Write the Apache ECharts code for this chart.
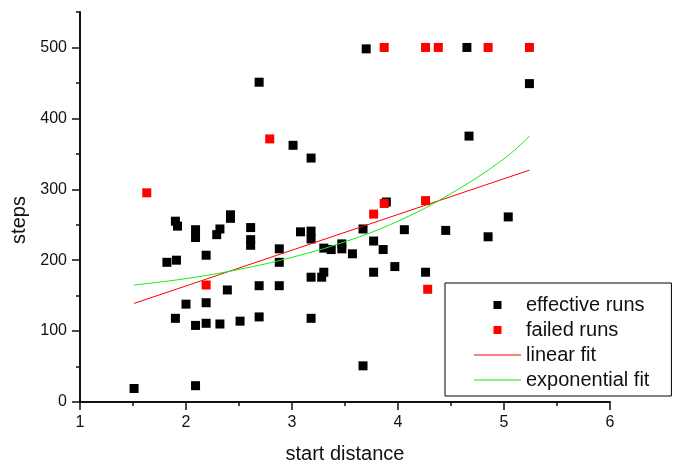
<!DOCTYPE html>
<html>
<head>
<meta charset="utf-8">
<script src="https://cdn.jsdelivr.net/npm/echarts@6/dist/echarts.min.js"></script>
<style>
html,body{margin:0;padding:0;background:#fff;}
#chart{width:675px;height:466px;}
</style>
</head>
<body>
<div id="chart"></div>
<script>
// ---- data ----
const effectiveRuns = [
  [1.51, 19], [2.09, 23], [1.90, 255], [1.92, 248], [1.82, 197], [1.91, 200],
  [1.90, 118], [2.00, 138], [2.09, 108], [2.09, 243], [2.09, 232], [2.19, 207],
  [2.19, 140], [2.19, 111], [2.32, 110], [2.32, 244], [2.29, 236], [2.42, 264],
  [2.42, 259], [2.39, 158], [2.51, 114], [2.61, 246], [2.61, 229], [2.61, 221],
  [2.69, 451], [2.69, 164], [2.69, 120], [2.88, 216], [2.88, 197], [2.88, 164],
  [3.01, 362], [3.08, 240], [3.18, 344], [3.18, 241], [3.18, 230], [3.18, 176],
  [3.18, 118], [3.28, 176], [3.30, 183], [3.30, 217], [3.37, 215], [3.47, 223],
  [3.47, 216], [3.57, 209], [3.67, 244], [3.67, 51], [3.70, 498], [3.77, 227],
  [3.77, 183], [3.86, 215], [3.89, 282], [3.97, 191], [4.06, 243], [4.26, 183],
  [4.45, 242], [4.65, 500], [4.67, 375], [4.85, 233], [5.04, 261], [5.24, 449]
];
const failedRuns = [
  [1.63, 295], [2.19, 165], [2.79, 371], [3.77, 265], [3.87, 280], [3.87, 500],
  [4.26, 284], [4.26, 500], [4.38, 500], [4.28, 159], [4.85, 500], [5.24, 500]
];
const linearFit = [[1.51, 139], [5.24, 327]];
const exponentialFit = [
  [1.51, 165], [2.0, 174], [2.5, 187], [3.0, 204], [3.5, 226],
  [4.0, 255], [4.5, 294], [5.0, 343], [5.24, 375]
];
const xTicks = [1, 2, 3, 4, 5, 6];
const yLabelTicks = [0, 100, 200, 300, 400, 500];
const seriesNames = ['effective runs', 'failed runs', 'linear fit', 'exponential fit'];

// ---- chart ----
const FONT = "'Liberation Sans', Arial, sans-serif";
const AXIS_COLOR = '#111';
const chart = echarts.init(document.getElementById('chart'), null, {renderer: 'canvas'});
const squarePath = 'path://M0,0L10,0L10,10L0,10Z';
const linePath = 'path://M0,0L47,0L47,1L0,1Z';

chart.setOption({
  animation: false,
  backgroundColor: '#fff',
  textStyle: {fontFamily: FONT},
  grid: {left: 80, right: 65, top: 12, bottom: 64, containLabel: false, outerBoundsMode: 'none'},
  xAxis: {
    type: 'value', min: xTicks[0], max: xTicks[xTicks.length - 1], interval: 1,
    name: 'start distance', nameLocation: 'middle', nameGap: 42,
    nameTextStyle: {fontSize: 20, color: '#111', fontFamily: FONT},
    axisLine: {show: true, onZero: false, lineStyle: {color: AXIS_COLOR, width: 2}},
    axisTick: {show: true, inside: false, length: 8, lineStyle: {color: AXIS_COLOR, width: 1.5}},
    minorTick: {show: true, splitNumber: 2, length: 4, lineStyle: {color: AXIS_COLOR, width: 1.5}},
    axisLabel: {fontSize: 16, color: '#111', margin: 13, fontFamily: FONT},
    splitLine: {show: false}, minorSplitLine: {show: false}
  },
  yAxis: [{
    type: 'value', min: 0, max: 550, interval: 50, position: 'left',
    name: 'steps', nameLocation: 'middle', nameGap: 48,
    nameTextStyle: {fontSize: 20, color: '#111', fontFamily: FONT, padding: [0, 26, 0, 0]},
    axisLine: {show: true, onZero: false, lineStyle: {color: AXIS_COLOR, width: 2}},
    axisTick: {show: true, inside: false, length: 4, lineStyle: {color: AXIS_COLOR, width: 1.5}},
    axisLabel: {fontSize: 16, color: '#111', margin: 13, fontFamily: FONT, customValues: yLabelTicks},
    splitLine: {show: false}
  }, {
    type: 'value', min: 0, max: 550, interval: 50, position: 'left', offset: 0,
    axisLine: {show: false},
    axisTick: {show: true, inside: false, length: 8, customValues: yLabelTicks, lineStyle: {color: AXIS_COLOR, width: 1.5}},
    axisLabel: {show: false},
    splitLine: {show: false}
  }],
  legend: {
    orient: 'vertical', left: 445, top: 283,
    padding: [12, 22, 6, 29],
    itemWidth: 47, itemHeight: 8, itemGap: 5,
    borderColor: '#000', borderWidth: 1, backgroundColor: '#fff',
    textStyle: {fontSize: 20, color: '#111', fontFamily: FONT},
    selectedMode: false,
    data: [
      {name: seriesNames[0], icon: squarePath},
      {name: seriesNames[1], icon: squarePath},
      {name: seriesNames[2], icon: linePath},
      {name: seriesNames[3], icon: linePath}
    ]
  },
  series: [
    {name: seriesNames[0], type: 'scatter', data: effectiveRuns, symbol: 'rect', symbolSize: 9,
     itemStyle: {color: '#000', opacity: 1}},
    {name: seriesNames[1], type: 'scatter', data: failedRuns, symbol: 'rect', symbolSize: 9,
     itemStyle: {color: '#ff0000', opacity: 1}},
    {name: seriesNames[2], type: 'line', data: linearFit, symbol: 'none', showSymbol: false,
     lineStyle: {color: '#ff0000', width: 1}, itemStyle: {color: '#ff0000'}},
    {name: seriesNames[3], type: 'line', data: exponentialFit, symbol: 'none', showSymbol: false, smooth: 0.4,
     lineStyle: {color: '#11ee11', width: 1}, itemStyle: {color: '#11ee11'}}
  ]
});
</script>
</body>
</html>
